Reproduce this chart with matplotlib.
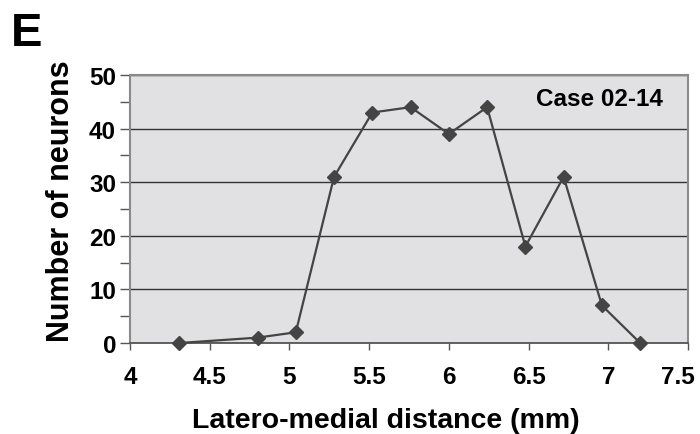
import matplotlib
matplotlib.use("Agg")
import matplotlib.pyplot as plt
from matplotlib.ticker import MultipleLocator
import matplotlib.transforms as mtransforms

plt.rcParams['font.family'] = ['Liberation Sans', 'DejaVu Sans']

distance_mm = [4.31, 4.80, 5.04, 5.28, 5.52, 5.76, 6.00, 6.24, 6.48, 6.72, 6.96, 7.20]
neurons = [0, 1, 2, 31, 43, 44, 39, 44, 18, 31, 7, 0]
x_ticks = [4, 4.5, 5, 5.5, 6, 6.5, 7, 7.5]
x_tick_labels = ["4", "4.5", "5", "5.5", "6", "6.5", "7", "7.5"]
y_ticks = [0, 10, 20, 30, 40, 50]

W, H = 700, 435
fig = plt.figure(figsize=(W / 100, H / 100), dpi=100)
ax = fig.add_axes([130 / W, 1 - 344 / H, (688 - 130) / W, (344 - 76) / H])
ax.set_facecolor('#e1e1e3')

ax.plot(distance_mm, neurons, color='#444444', lw=1.6, marker='D', ms=7,
        mfc='#444444', mec='#444444', zorder=3, clip_on=False)

ax.set_xlim(4, 7.5)
ax.set_ylim(0, 50)
ax.set_xticks(x_ticks)
ax.set_xticklabels(x_tick_labels)
ax.set_yticks(y_ticks)
ax.yaxis.set_minor_locator(MultipleLocator(5))
ax.grid(axis='y', which='major', color='#333333', lw=1.0, zorder=1)
ax.set_axisbelow(True)

for s in ['top', 'right', 'left']:
    ax.spines[s].set_color('#8a8a8a')
    ax.spines[s].set_linewidth(1.5)
ax.spines['bottom'].set_color('#555555')
ax.spines['bottom'].set_linewidth(1.3)

ax.tick_params(axis='both', which='both', direction='out', color='#555555', width=1.0)
ax.tick_params(axis='y', which='major', length=7, pad=3)
ax.tick_params(axis='y', which='minor', length=7)
ax.tick_params(axis='x', which='major', length=5, pad=11)
for lab in ax.get_xticklabels() + ax.get_yticklabels():
    lab.set_fontweight('bold')
    lab.set_fontsize(17.5)

# last x tick label sits slightly left of its tick in the reference
last = ax.get_xticklabels()[-1]
last.set_transform(last.get_transform() + mtransforms.ScaledTranslation(-10 / 100, 0, fig.dpi_scale_trans))

fig.text(386 / W, 1 - 428 / H, 'Latero-medial distance (mm)', fontsize=20.5, fontweight='bold',
         ha='center', va='baseline')
fig.text(61 / W, 1 - 201 / H, 'Number of neurons', fontsize=22, fontweight='bold',
         ha='center', va='center', rotation=90)

ax.text(663 / W, 1 - 100 / H, 'Case 02-14', transform=fig.transFigure, ha='right', va='center',
        fontsize=17.5, fontweight='bold')

fig.text(11 / W, 1 - 46 / H, 'E', fontsize=34, fontweight='bold', ha='left', va='baseline')

fig.savefig('out.png', dpi=100)
